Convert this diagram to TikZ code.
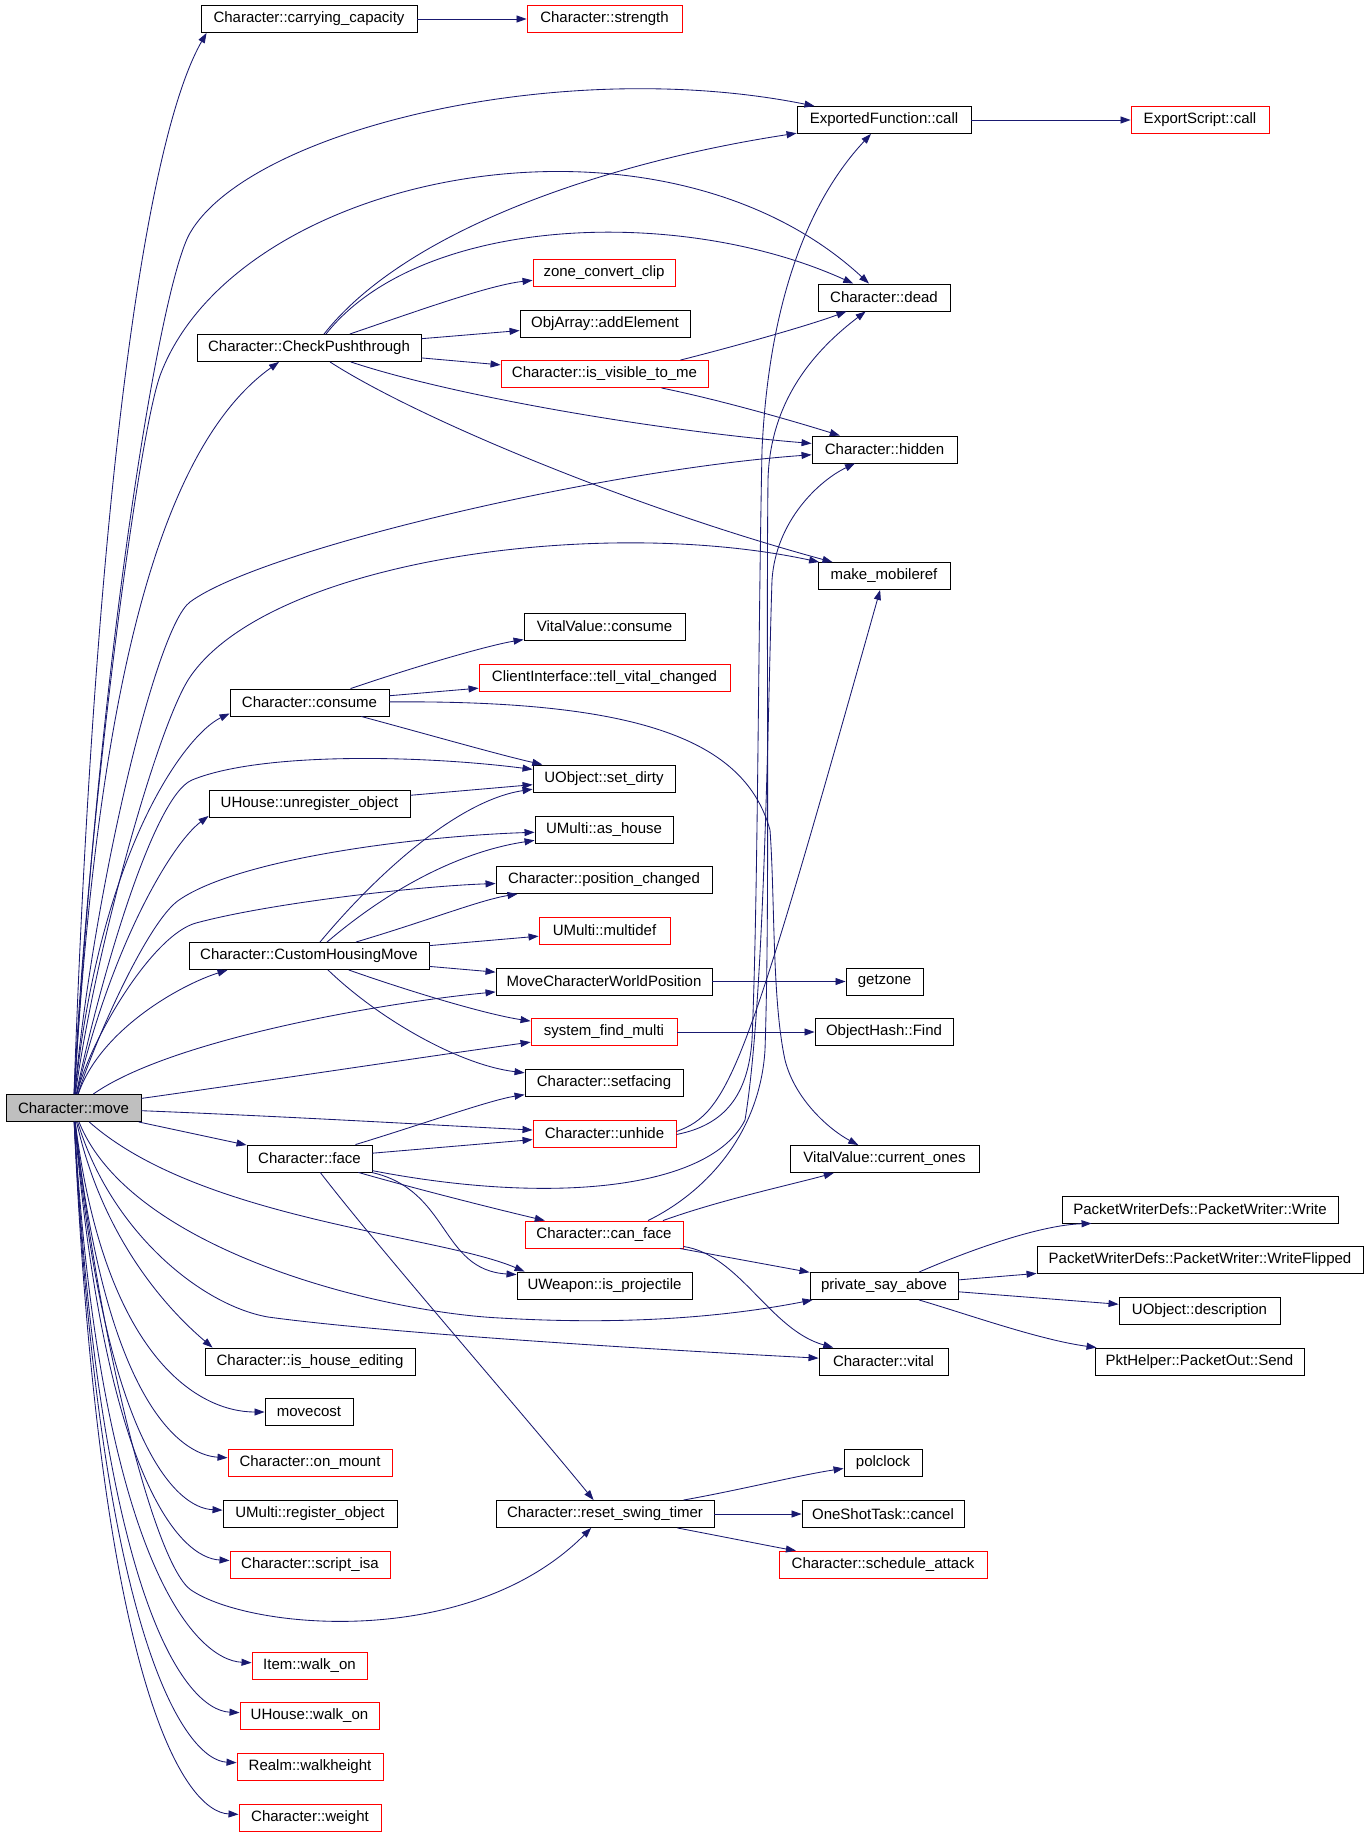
\documentclass[tikz,border=0pt]{standalone}
\usepackage{fontspec}
\setmainfont{Liberation Sans}
\usetikzlibrary{arrows.meta}
\definecolor{edgeblue}{HTML}{191970}
\definecolor{nodegray}{HTML}{BFBFBF}
\begin{document}
\begin{tikzpicture}[x=1pt,y=-1pt,
  box/.style={draw=black, line width=0.9pt, minimum height=27pt, inner xsep=0pt, inner ysep=0pt, font=\fontsize{15}{18}\selectfont},
  rbox/.style={box, draw=red},
  e/.style={draw=edgeblue, line width=0.85pt, -{Triangle[length=10pt,width=7pt]}, fill=none}]
\fill[white] (0,0) rectangle (1365,1836);
\useasboundingbox (0,0) rectangle (1365,1836);
% nodes
\node[box, fill=nodegray, minimum width=135pt] (move) at (73.5,1108) {Character::move};
\node[box, minimum width=216pt] (carry) at (309,19) {Character::carrying\_capacity};
\node[rbox, minimum width=155pt] (strength) at (604.5,19) {Character::strength};
\node[box, minimum width=174pt] (efcall) at (884,120) {ExportedFunction::call};
\node[rbox, minimum width=138pt] (escall) at (1200,120) {ExportScript::call};
\node[box, minimum width=132pt] (dead) at (884,297.5) {Character::dead};
\node[rbox, minimum width=142pt] (zone) at (604,272.5) {zone\_convert\_clip};
\node[box, minimum width=170pt] (addel) at (605,323.5) {ObjArray::addElement};
\node[box, minimum width=224pt] (cpt) at (309,348) {Character::CheckPushthrough};
\node[rbox, minimum width=207pt] (visible) at (604.5,374) {Character::is\_visible\_to\_me};
\node[box, minimum width=145pt] (hidden) at (884.5,449.5) {Character::hidden};
\node[box, minimum width=132pt] (mobref) at (884,576) {make\_mobileref};
\node[box, minimum width=161pt] (vconsume) at (604.5,626.5) {VitalValue::consume};
\node[rbox, minimum width=251pt] (tell) at (604.5,677.5) {ClientInterface::tell\_vital\_changed};
\node[box, minimum width=159pt] (consume) at (309.5,702.5) {Character::consume};
\node[box, minimum width=142pt] (setdirty) at (604,778.5) {UObject::set\_dirty};
\node[box, minimum width=201pt] (unreg) at (309.5,804) {UHouse::unregister\_object};
\node[box, minimum width=138pt] (ashouse) at (604,830) {UMulti::as\_house};
\node[box, minimum width=216pt] (poschg) at (604,880) {Character::position\_changed};
\node[rbox, minimum width=131pt] (multidef) at (604.5,930.5) {UMulti::multidef};
\node[box, minimum width=240pt] (chm) at (309,956) {Character::CustomHousingMove};
\node[box, minimum width=216pt] (mcwp) at (604,981.5) {MoveCharacterWorldPosition};
\node[box, minimum width=77pt] (getzone) at (884.5,981.5) {getzone};
\node[rbox, minimum width=146pt] (sfm) at (604,1032) {system\_find\_multi};
\node[box, minimum width=138pt] (ohfind) at (884,1032) {ObjectHash::Find};
\node[box, minimum width=158pt] (setfacing) at (604,1082.5) {Character::setfacing};
\node[rbox, minimum width=143pt] (unhide) at (604.5,1133.5) {Character::unhide};
\node[box, minimum width=125pt] (face) at (309.5,1158.5) {Character::face};
\node[box, minimum width=189pt] (current) at (884.5,1159) {VitalValue::current\_ones};
\node[box, minimum width=276pt] (write) at (1200,1209.5) {PacketWriterDefs::PacketWriter::Write};
\node[rbox, minimum width=158pt] (canface) at (604,1234.5) {Character::can\_face};
\node[box, minimum width=326pt] (flipped) at (1200,1260) {PacketWriterDefs::PacketWriter::WriteFlipped};
\node[box, minimum width=148pt] (psa) at (884,1286) {private\_say\_above};
\node[box, minimum width=175pt] (isproj) at (604.5,1285.5) {UWeapon::is\_projectile};
\node[box, minimum width=161pt] (desc) at (1199.5,1310.5) {UObject::description};
\node[box, minimum width=129pt] (vital) at (883.5,1361.5) {Character::vital};
\node[box, minimum width=210pt] (housedit) at (310,1361.5) {Character::is\_house\_editing};
\node[box, minimum width=209pt] (send) at (1199.5,1361.5) {PktHelper::PacketOut::Send};
\node[box, minimum width=88pt] (movecost) at (309,1412) {movecost};
\node[rbox, minimum width=164pt] (onmount) at (310,1462.5) {Character::on\_mount};
\node[box, minimum width=78pt] (polclock) at (883,1462.5) {polclock};
\node[box, minimum width=174pt] (regobj) at (310,1514) {UMulti::register\_object};
\node[box, minimum width=218pt] (rst) at (605,1514) {Character::reset\_swing\_timer};
\node[box, minimum width=162pt] (cancel) at (883,1514) {OneShotTask::cancel};
\node[rbox, minimum width=160pt] (scriptisa) at (310,1564.5) {Character::script\_isa};
\node[rbox, minimum width=208pt] (sched) at (883,1564.5) {Character::schedule\_attack};
\node[rbox, minimum width=115pt] (itemwalk) at (309.5,1665.5) {Item::walk\_on};
\node[rbox, minimum width=139pt] (housewalk) at (309.5,1716) {UHouse::walk\_on};
\node[rbox, minimum width=146pt] (walkheight) at (310,1766.5) {Realm::walkheight};
\node[rbox, minimum width=142pt] (weight) at (310,1817.5) {Character::weight};
% straight edges
\draw[e] (carry) -- (strength);
\draw[e] (efcall) -- (escall);
\draw[e] (mcwp) -- (getzone);
\draw[e] (sfm) -- (ohfind);
\draw[e] (rst) -- (cancel);
% edges from move, upwards
\draw[e] (move) .. controls (95,500) and (145,140) .. ([xshift=6pt]carry.south west);
\draw[e] (move) .. controls (100,650) and (160,285) .. (190,233) .. controls (250,130) and (560,55) .. (efcall);
\draw[e] (move) .. controls (85,850) and (137,434) .. (161,373) .. controls (240,170) and (660,90) .. (dead);
\draw[e] (move) .. controls (100,650) and (170,440) .. ([xshift=-30pt]cpt.south);
\draw[e] (move) .. controls (92,900) and (155,628) .. (190,602) .. controls (260,550) and (600,470) .. (hidden);
\draw[e] (move) .. controls (95,950) and (158,724) .. (190,677) .. controls (270,560) and (600,515) .. (mobref);
\draw[e] (move) .. controls (100,850) and (185,735) .. ([yshift=3pt]consume.south west);
\draw[e] (move) .. controls (95,1000) and (151,797) .. (192,780) .. controls (260,752) and (420,755) .. (setdirty);
\draw[e] (move) .. controls (110,950) and (170,845) .. ([yshift=2pt]unreg.south west);
\draw[e] (move) .. controls (95,1040) and (148,921) .. (179,900) .. controls (240,858) and (420,836) .. (ashouse);
\draw[e] (move) .. controls (90,1040) and (152,935) .. (196,923) .. controls (270,903) and (420,886) .. (poschg);
\draw[e] (move) .. controls (100,1030) and (180,985) .. ([xshift=39pt]chm.south west);
\draw[e] (move) .. controls (170,1040) and (380,1003) .. (mcwp);
\draw[e] (move) .. controls (300,1076) and (430,1056) .. (sfm);
\draw[e] (move) .. controls (300,1117) and (450,1126) .. (unhide);
\draw[e] (move) -- (face);
% edges from move, downwards
\draw[e] (move) .. controls (200,1220) and (440,1235) .. ([xshift=8pt]isproj.north west);
\draw[e] (move) .. controls (130,1250) and (380,1312) .. (500,1318) .. controls (620,1325) and (720,1318) .. (psa);
\draw[e] (move) .. controls (110,1230) and (200,1305) .. (268,1317) .. controls (400,1335) and (700,1352) .. (vital);
\draw[e] (move) .. controls (105,1250) and (180,1320) .. ([xshift=8pt]housedit.north west);
\draw[e] (move) .. controls (105,1360) and (200,1412) .. (movecost);
\draw[e] (move) .. controls (105,1400) and (180,1455) .. (onmount);
\draw[e] (move) .. controls (105,1440) and (175,1508) .. (regobj);
\draw[e] (move) .. controls (105,1480) and (180,1558) .. (scriptisa);
\draw[e] (move) .. controls (100,1350) and (156,1566) .. (191,1590) .. controls (250,1630) and (470,1650) .. (rst);
\draw[e] (move) .. controls (100,1560) and (195,1660) .. (itemwalk);
\draw[e] (move) .. controls (100,1600) and (185,1710) .. (housewalk);
\draw[e] (move) .. controls (100,1640) and (185,1760) .. (walkheight);
\draw[e] (move) .. controls (100,1690) and (185,1812) .. (weight);
% CheckPushthrough
\draw[e] ([xshift=15pt]cpt.north) .. controls (410,225) and (620,160) .. (efcall);
\draw[e] ([xshift=17pt]cpt.north) .. controls (420,215) and (680,205) .. (dead);
\draw[e] (cpt) .. controls (420,310) and (490,285) .. (zone);
\draw[e] (cpt) -- (addel);
\draw[e] (cpt) -- (visible);
\draw[e] (cpt) .. controls (450,395) and (650,430) .. (hidden);
\draw[e] ([xshift=21pt]cpt.south) .. controls (420,420) and (640,510) .. (mobref);
% is_visible_to_me
\draw[e] ([xshift=76pt]visible.north) .. controls (740,345) and (810,325) .. (dead);
\draw[e] ([xshift=57pt]visible.south) .. controls (720,400) and (790,420) .. (hidden);
% consume
\draw[e] (consume) .. controls (420,665) and (490,645) .. (vconsume);
\draw[e] (consume) -- (tell);
\draw[e] (consume) .. controls (430,735) and (500,755) .. (setdirty);
\draw[e] (consume) .. controls (640,700) and (745,740) .. (770,830) .. controls (775,900) and (772,1000) .. (785,1060) .. controls (795,1100) and (830,1130) .. (current);
\draw[e] (unreg) -- (setdirty);
% CustomHousingMove
\draw[e] ([xshift=11pt]chm.north) .. controls (380,870) and (460,800) .. (setdirty);
\draw[e] ([xshift=18pt]chm.north) .. controls (400,880) and (470,850) .. (ashouse);
\draw[e] (chm) .. controls (430,920) and (480,900) .. (poschg);
\draw[e] (chm) -- (multidef);
\draw[e] (chm) -- (mcwp);
\draw[e] (chm) .. controls (420,995) and (490,1015) .. (sfm);
\draw[e] ([xshift=19pt]chm.south) .. controls (380,1020) and (460,1065) .. (setfacing);
% face
\draw[e] (face) .. controls (420,1125) and (490,1100) .. (setfacing);
\draw[e] (face) -- (unhide);
\draw[e] (face) .. controls (550,1205) and (710,1190) .. (745,1120) .. controls (765,1000) and (768,700) .. (772,580) .. controls (776,520) and (820,480) .. (hidden);
\draw[e] (face) .. controls (420,1190) and (500,1210) .. (canface);
\draw[e] (face) .. controls (450,1190) and (440,1270) .. ([yshift=-3pt]isproj.north west);
\draw[e] (face) .. controls (380,1250) and (520,1410) .. (rst);
% unhide
\draw[e] ([yshift=2pt]unhide.east) .. controls (730,1112) and (745,1070) .. (mobref);
\draw[e] ([yshift=-1pt]unhide.east) .. controls (725,1125) and (748,1095) .. (752,1040) .. controls (758,900) and (758,650) .. (762,450) .. controls (768,320) and (800,210) .. (efcall);
% can_face
\draw[e] ([xshift=44pt]canface.north) .. controls (710,1190) and (760,1130) .. (765,1050) .. controls (770,900) and (766,650) .. (768,480) .. controls (770,400) and (815,350) .. (dead);
\draw[e] ([xshift=59pt]canface.north) .. controls (720,1200) and (790,1185) .. (current);
\draw[e] (canface) -- (psa);
\draw[e] (canface) .. controls (740,1255) and (770,1330) .. (vital);
% private_say_above
\draw[e] ([xshift=35pt]psa.north) .. controls (970,1250) and (1040,1225) .. ([xshift=30pt]write.south west);
\draw[e] (psa) -- (flipped);
\draw[e] (psa) -- (desc);
\draw[e] ([xshift=35pt]psa.south) .. controls (970,1315) and (1040,1340) .. ([xshift=2pt]send.north west);
% reset_swing_timer
\draw[e] (rst) .. controls (740,1490) and (800,1475) .. (polclock);
\draw[e] (rst) .. controls (740,1540) and (780,1548) .. (sched);
\end{tikzpicture}
\end{document}
